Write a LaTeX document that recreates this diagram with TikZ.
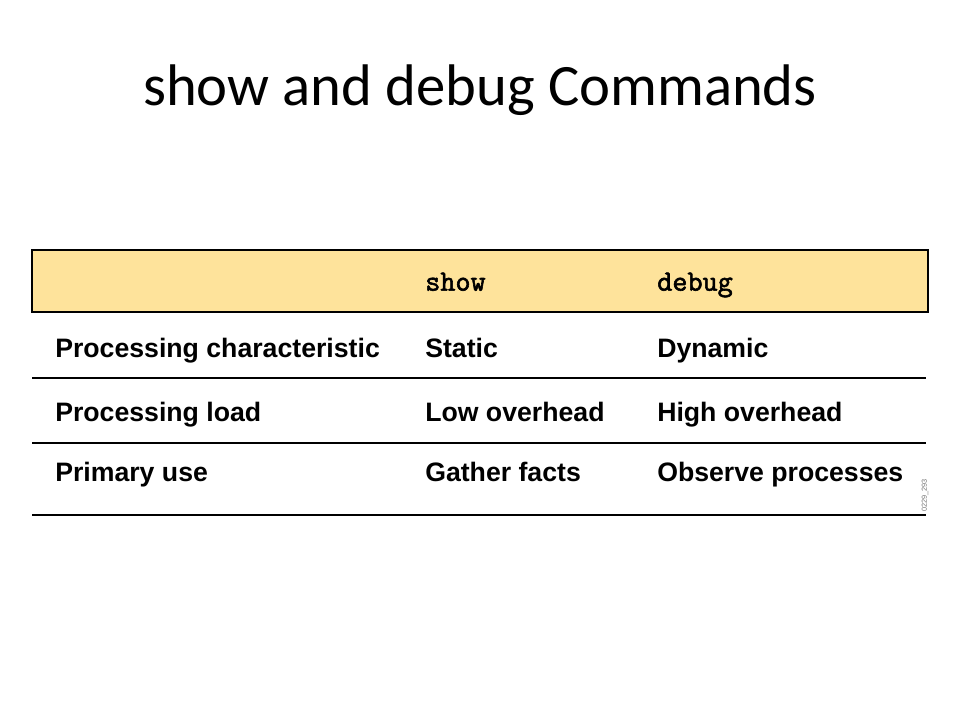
\documentclass[tikz,border=0pt]{standalone}
\usepackage{fontspec}
\setmainfont{Liberation Sans}
\newfontfamily\titlefont{Carlito}
\newfontfamily\codefont[FakeBold=2]{Latin Modern Mono}
\usetikzlibrary{positioning}
\definecolor{headfill}{RGB}{254,227,155}

\begin{document}
\begin{tikzpicture}[x=1pt, y=1pt,
    cell/.style={anchor=base west, inner sep=0pt, font=\fontsize{20}{24}\selectfont\bfseries},
    code/.style={anchor=base west, inner sep=0pt, font=\fontsize{22}{24}\selectfont\codefont},
    rule/.style={line width=1pt}]
    \useasboundingbox (0,0) rectangle (720,540);
    
    \node [font=\fontsize{44}{52}\selectfont\titlefont] (titel) at (360,472.5) {show and debug Commands};
    
    % header
    \draw [fill=headfill, line width=0.9pt] (24,306) rectangle (696,352.5);
    \node [code] (kopf show) at (318.75,322) {show};
    \node [code] (kopf debug) at (492.75,322) {debug};
    
    % rows
    \node [cell] (merkmal) at (41.25,271.5) {Processing characteristic};
    \node [cell] (statisch) at (318.75,271.5) {Static};
    \node [cell] (dynamisch) at (492.75,271.5) {Dynamic};
    
    \node [cell] (last) at (41.25,223.7) {Processing load};
    \node [cell] (niedrig) at (318.75,223.7) {Low overhead};
    \node [cell] (hoch) at (492.75,223.7) {High overhead};
    
    \node [cell] (nutzen) at (41.25,178.5) {Primary use};
    \node [cell] (fakten) at (318.75,178.5) {Gather facts};
    \node [cell] (prozesse) at (492.75,178.5) {Observe processes};
    
    \node [rotate=90, inner sep=0pt, font=\fontsize{5.5}{6}\selectfont, text=black!55] (kennung) at (693.75,168.5) {0229\_293};
    
    % rules
    \coordinate (r1 links) at (24,256.5);
    \coordinate (r1 rechts) at (694.5,256.5);
    \coordinate (r2 links) at (24,207.75);
    \coordinate (r2 rechts) at (694.5,207.75);
    \coordinate (r3 links) at (24,153.75);
    \coordinate (r3 rechts) at (694.5,153.75);
    \draw [rule] (r1 links) -- (r1 rechts);
    \draw [rule] (r2 links) -- (r2 rechts);
    \draw [rule] (r3 links) -- (r3 rechts);
\end{tikzpicture}
\end{document}
